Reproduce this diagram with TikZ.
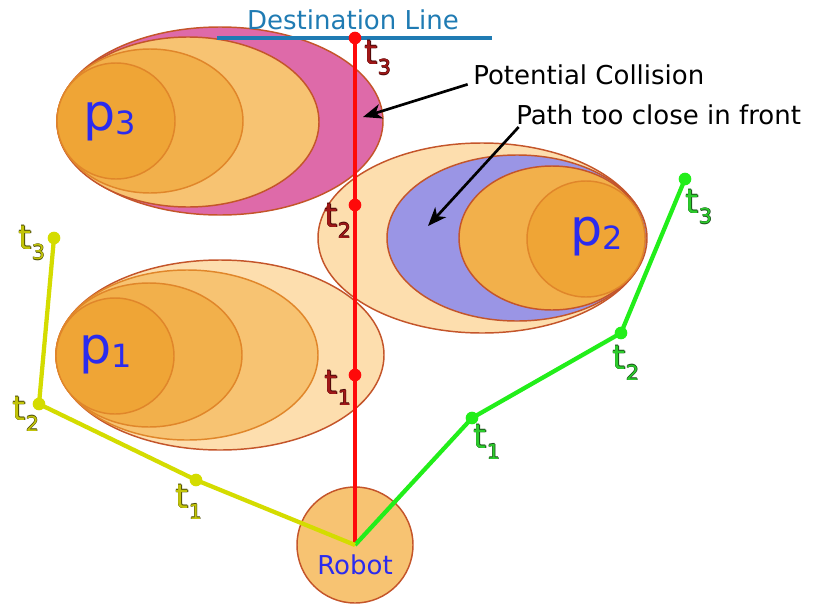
\documentclass[tikz,border=0pt]{standalone}
\usepackage{fontspec}
\setmainfont{DejaVu Sans}
\usetikzlibrary{shapes.geometric,arrows.meta}
\definecolor{pinkf}{HTML}{DE6AA9}
\definecolor{peach}{HTML}{FDDEAE}
\definecolor{orA}{HTML}{F7C372}
\definecolor{orB}{HTML}{F2B04B}
\definecolor{orC}{HTML}{EFA536}
\definecolor{bluef}{HTML}{9A95E5}
\definecolor{edgeO}{HTML}{C4552A}
\definecolor{edgeI}{HTML}{E0862A}
\definecolor{pblue}{HTML}{2B2BEE}
\definecolor{destc}{HTML}{1F7BB3}
\definecolor{redp}{HTML}{FF0A0A}
\definecolor{redt}{HTML}{A01818}
\definecolor{redo}{HTML}{4A0808}
\definecolor{greenp}{HTML}{22EE1A}
\definecolor{greent}{HTML}{2CCB2C}
\definecolor{greeno}{HTML}{1B4F1B}
\definecolor{yelp}{HTML}{D4DC00}
\definecolor{yelt}{HTML}{C2C40A}
\definecolor{yelo}{HTML}{4A4A08}
\newcommand\mysubt[1]{t\raisebox{-0.32em}{\fontsize{15.5}{15.5}\selectfont #1}}
\newcommand\mysubp[1]{p\raisebox{-0.08em}{\fontsize{24}{24}\selectfont #1}}
\newcommand\olt[3]{\leavevmode
  \rlap{\kern0.4pt\color{#2}#3}%
  \rlap{\kern-0.4pt\color{#2}#3}%
  \rlap{\raisebox{0.4pt}{\color{#2}#3}}%
  \rlap{\raisebox{-0.4pt}{\color{#2}#3}}%
  {\color{#1}#3}}
\begin{document}
\begin{tikzpicture}[x=0.75pt,y=-0.75pt,
  el/.style n args={2}{ellipse, inner sep=0pt, minimum width=#1*1.5pt, minimum height=#2*1.5pt, line width=1.1pt},
  oute/.style={draw=edgeO},
  inne/.style={draw=edgeI},
  plab/.style={text=pblue, font=\fontsize{38}{38}\selectfont, inner sep=0pt},
  tlab/.style={font=\fontsize{25}{25}\selectfont, inner sep=0pt},
  dot/.style={circle, inner sep=0pt, minimum size=9.5pt, fill=#1},
  pathl/.style={line width=3.2pt, draw=#1},
  txt/.style={font=\fontsize{19.5}{22}\selectfont, inner sep=0pt},
  callout/.style={draw=black, line width=2pt, -{Stealth[length=14pt,width=11pt,inset=4pt]}}
]
\useasboundingbox (0,0) rectangle (813,603);
% p3 group
\node[el={163}{94}, oute, fill=pinkf] (p3o) at (220,121) {};
\node[el={131}{85}, oute, fill=orA] (p3a) at (188,122) {};
\node[el={93}{72}, inne, fill=orB] (p3b) at (150,121) {};
\node[el={59}{58}, inne, fill=orC] (p3c) at (116,121) {};
\node[plab] (p3l) at (110,122) {\mysubp{3}};
% p1 group
\node[el={164}{95}, oute, fill=peach] (p1o) at (220,355) {};
\node[el={131}{85}, inne, fill=orA] (p1a) at (187,355) {};
\node[el={93}{72}, inne, fill=orB] (p1b) at (149,355) {};
\node[el={59}{58}, inne, fill=orC] (p1c) at (115,356) {};
\node[plab] (p1l) at (106,355) {\mysubp{1}};
% p2 group
\node[el={164}{95}, oute, fill=peach] (p2o) at (482,238) {};
\node[el={130}{83}, oute, fill=bluef] (p2b) at (517,238) {};
\node[el={93}{72}, oute, fill=orB] (p2m) at (552,238) {};
\node[el={59}{58}, inne, fill=orC] (p2c) at (586,239) {};
\node[plab] (p2l) at (597,237) {\mysubp{2}};
% destination line
\coordinate (dl) at (217,38);
\coordinate (dr) at (492,38);
\draw[draw=destc, line width=2.5pt] (dl) -- (dr);
\node[txt, text=destc] (destlab) at (353,20) {Destination Line};
% robot
\node[circle, inner sep=0pt, minimum size=87pt, fill=orA, draw=edgeO, line width=1.1pt] (robot) at (355,545) {};
% red path
\node[dot=redp] (r1) at (355,375) {};
\node[dot=redp] (r2) at (355,205) {};
\node[dot=redp] (r3) at (355,38) {};
\draw[pathl=redp] (robot.center) -- (r1.center) -- (r2.center) -- (r3.center);
\node[tlab] (r1l) at (338,388) {\olt{redt}{redo}{\mysubt{1}}};
\node[tlab] (r2l) at (338,221) {\olt{redt}{redo}{\mysubt{2}}};
\node[tlab] (r3l) at (378,58) {\olt{redt}{redo}{\mysubt{3}}};
% green path
\node[dot=greenp] (g1) at (472,418) {};
\node[dot=greenp] (g2) at (621,333) {};
\node[dot=greenp] (g3) at (685,179) {};
\draw[pathl=greenp, line join=round] (robot.center) -- (g1.center) -- (g2.center) -- (g3.center);
\node[tlab] (g1l) at (487,442) {\olt{greent}{greeno}{\mysubt{1}}};
\node[tlab] (g2l) at (626,363) {\olt{greent}{greeno}{\mysubt{2}}};
\node[tlab] (g3l) at (699,207) {\olt{greent}{greeno}{\mysubt{3}}};
% yellow path
\node[dot=yelp] (y1) at (196,480) {};
\node[dot=yelp] (y2) at (39,404) {};
\node[dot=yelp] (y3) at (54,238) {};
\draw[pathl=yelp, line join=round] (robot.center) -- (y1.center) -- (y2.center) -- (y3.center);
\node[tlab] (y1l) at (189,502) {\olt{yelt}{yelo}{\mysubt{1}}};
\node[tlab] (y2l) at (26,414) {\olt{yelt}{yelo}{\mysubt{2}}};
\node[tlab] (y3l) at (32,243) {\olt{yelt}{yelo}{\mysubt{3}}};
% robot label
\node[txt, text=pblue] (robotl) at (355,565) {Robot};
% callouts
\node[txt, anchor=west] (pc) at (473,75) {Potential Collision};
\node[txt, anchor=west] (ptc) at (516,115) {Path too close in front};
\coordinate (hit1) at (363,117);
\coordinate (hit2) at (428,226);
\draw[callout] ([xshift=-4pt,yshift=-7pt]pc.west) -- (hit1);
\draw[callout] ([xshift=2pt,yshift=-9pt]ptc.west) -- (hit2);
\end{tikzpicture}
\end{document}
